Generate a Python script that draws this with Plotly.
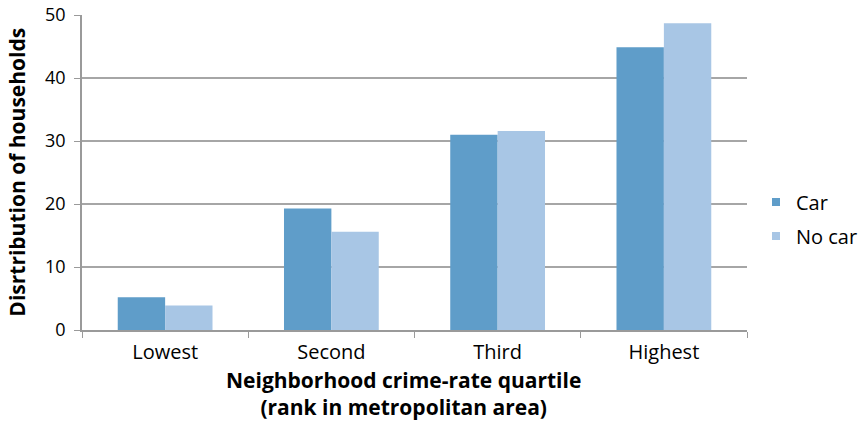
import plotly.graph_objects as go

categories = ["Lowest", "Second", "Third", "Highest"]
car = [5.2, 19.3, 31.0, 44.9]
no_car = [3.9, 15.6, 31.6, 48.7]
y_ticks = [0, 10, 20, 30, 40, 50]

FONT = "'Open Sans', Lato, sans-serif"
CAR_COLOR = "#5F9DC9"
NOCAR_COLOR = "#A8C6E5"
AXIS_GRAY = "#9A9A9A"

fig = go.Figure()
fig.add_trace(go.Bar(name="Car", x=categories, y=car, showlegend=False,
                     marker=dict(color=CAR_COLOR, line=dict(width=0))))
fig.add_trace(go.Bar(name="No car", x=categories, y=no_car, showlegend=False,
                     marker=dict(color=NOCAR_COLOR, line=dict(width=0))))

# Small square legend keys
for name, color in [("Car", CAR_COLOR), ("No car", NOCAR_COLOR)]:
    fig.add_trace(go.Scatter(name=name, x=[None], y=[None], mode="markers",
                             legendgroup=name,
                             marker=dict(symbol="square", size=8, color=color)))

fig.update_layout(
    width=865, height=424,
    margin=dict(l=82, r=118, t=15, b=94, autoexpand=False),
    paper_bgcolor="white", plot_bgcolor="white",
    barmode="group", bargap=0.43, bargroupgap=0,
    font=dict(family=FONT, size=20, color="#000000"),
    showlegend=True,
    legend=dict(x=756 / 865, xanchor="left", xref="container",
                y=0.352, yanchor="middle", yref="paper",
                font=dict(size=20), itemwidth=30, tracegroupgap=5,
                bgcolor="rgba(0,0,0,0)"),
)

fig.update_xaxes(
    automargin=False,
    showline=True, linecolor=AXIS_GRAY, linewidth=1.5,
    ticks="outside", ticklen=6, tickcolor=AXIS_GRAY, tickson="boundaries",
    tickfont=dict(size=20), ticklabelstandoff=3,
)
fig.update_yaxes(
    automargin=False,
    range=[0, 50], tickvals=y_ticks,
    showline=True, linecolor=AXIS_GRAY, linewidth=1.5,
    ticks="outside", ticklen=6, tickcolor=AXIS_GRAY,
    showgrid=True, gridcolor="#A6A6A6", gridwidth=1.5,
    zeroline=False,
    tickfont=dict(size=18), ticklabelstandoff=5,
)

# Axis titles
fig.add_annotation(
    text="<b>Neighborhood crime-rate quartile<br>(rank in metropolitan area)</b>",
    xref="paper", yref="paper", x=0.483, y=-0.203, xanchor="center", yanchor="middle",
    showarrow=False, font=dict(size=21), align="center",
)
fig.add_annotation(
    text="<b>Disrtribution of households</b>",
    xref="paper", yref="paper", x=-0.099, y=0.50, xanchor="center", yanchor="middle",
    showarrow=False, font=dict(size=21), textangle=-90,
)

fig.write_html("out.html")
